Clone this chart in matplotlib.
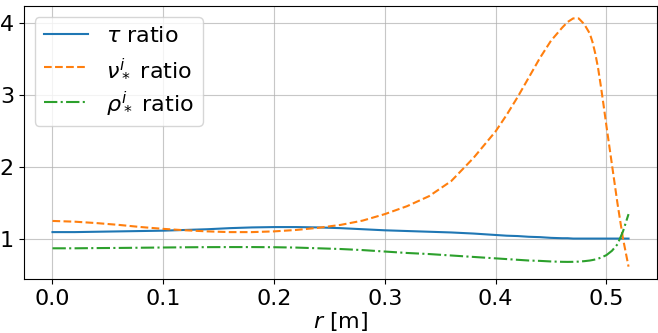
import matplotlib
matplotlib.use('Agg')
import matplotlib.pyplot as plt

# ── data ──────────────────────────────────────────────────────────────────────
r = [0.00, 0.02, 0.04, 0.06, 0.08, 0.10, 0.12, 0.14, 0.16, 0.18,
     0.20, 0.22, 0.24, 0.26, 0.28, 0.30, 0.32, 0.34, 0.36, 0.38,
     0.40, 0.41, 0.42, 0.43, 0.44, 0.45, 0.46, 0.465, 0.47, 0.475,
     0.48, 0.485, 0.4875, 0.49, 0.4925, 0.495, 0.4975, 0.50, 0.505,
     0.51, 0.515, 0.52]

tau_ratio = [1.090, 1.090, 1.095, 1.100, 1.105, 1.110, 1.120, 1.130, 1.145, 1.155,
             1.160, 1.160, 1.155, 1.145, 1.130, 1.115, 1.105, 1.095, 1.085, 1.070,
             1.050, 1.040, 1.035, 1.025, 1.020, 1.010, 1.005, 1.005, 1.000, 1.000,
             1.000, 1.000, 1.000, 1.000, 1.000, 1.000, 1.000, 1.000, 1.000,
             1.000, 1.000, 1.000]

nu_ratio = [1.245, 1.235, 1.215, 1.190, 1.160, 1.135, 1.115, 1.100, 1.090, 1.090,
            1.100, 1.120, 1.150, 1.190, 1.250, 1.340, 1.450, 1.590, 1.800, 2.120,
            2.490, 2.720, 2.970, 3.240, 3.510, 3.750, 3.930, 4.010, 4.060, 4.060,
            3.980, 3.850, 3.730, 3.570, 3.370, 3.120, 2.850, 2.570, 2.030,
            1.490, 1.000, 0.610]

rho_ratio = [0.865, 0.865, 0.868, 0.870, 0.873, 0.876, 0.879, 0.881, 0.882, 0.882,
             0.880, 0.875, 0.865, 0.855, 0.840, 0.820, 0.800, 0.785, 0.765, 0.745,
             0.725, 0.715, 0.705, 0.695, 0.690, 0.682, 0.677, 0.676, 0.677, 0.680,
             0.686, 0.695, 0.702, 0.710, 0.721, 0.735, 0.752, 0.770, 0.830,
             0.920, 1.100, 1.340]

plt.rcParams['font.size'] = 16

fig = plt.figure(figsize=(6.58, 3.33), dpi=100)
ax = fig.add_axes([0.036, 0.162, 0.963, 0.82])

ax.plot(r, tau_ratio, color='tab:blue', ls='-', label=r'$\tau$ ratio')
ax.plot(r, nu_ratio, color='tab:orange', ls='--', label=r'$\nu_*^i$ ratio')
ax.plot(r, rho_ratio, color='tab:green', ls='-.', label=r'$\rho_*^i$ ratio')

ax.set_xlabel(r'$r$ [m]', labelpad=1)
ax.set_yticks([1, 2, 3, 4])
ax.grid(True, alpha=0.7)
ax.legend(loc='upper left')

fig.savefig('out.png', dpi=100)
